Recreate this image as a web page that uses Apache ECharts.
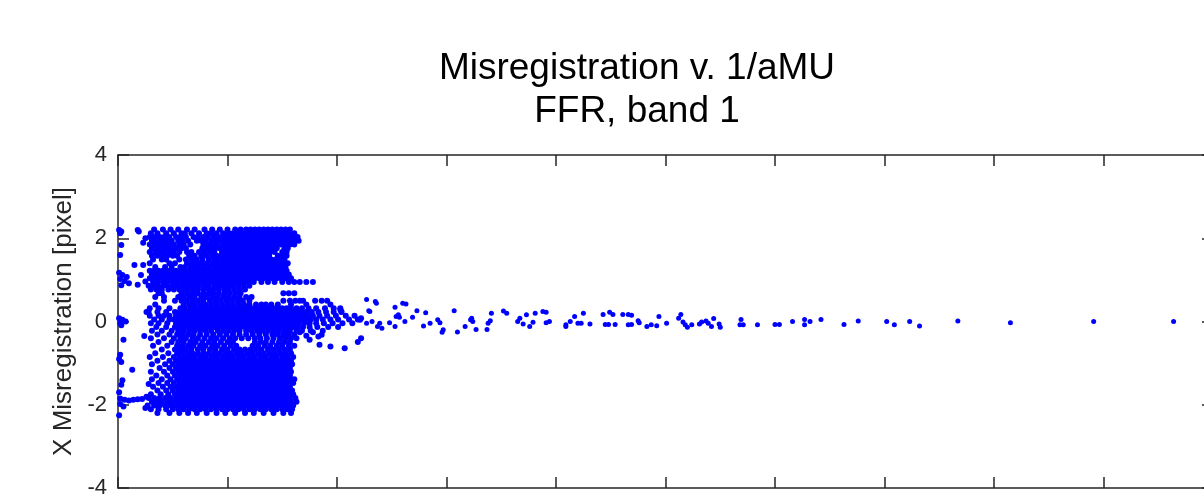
<!DOCTYPE html>
<html>
<head>
<meta charset="utf-8">
<script src="https://cdn.jsdelivr.net/npm/echarts@6/dist/echarts.min.js"></script>
<style>
html, body { margin: 0; padding: 0; background: #fff; }
#main { width: 1204px; height: 496px; }
</style>
</head>
<body>
<div id="main"></div>
<script>
// x values are in arbitrary axis units (0..1000, ticks every 100), y in pixels of misregistration
// dense cluster, read row by row: [y, [x, x, ...]]
var upperRows = [
	[2.21, [33, 41, 48, 55, 63, 70, 79, 86, 93, 100, 107, 112, 117, 121, 125, 129, 133, 137, 141, 145, 149, 153, 157]],
	[2.12, [30, 36, 44, 51, 58, 61, 67, 74, 81, 85, 90, 96, 101, 105, 109, 113, 117, 121, 125, 129, 133, 137, 141, 145, 149, 153, 157, 161]],
	[2.03, [29, 33, 38, 42, 47, 53, 57, 62, 69, 73, 78, 82, 87, 92, 96, 100, 104, 108, 112, 116, 120, 124, 128, 132, 136, 140, 144, 148, 152, 156, 160, 164]],
	[1.94, [31, 35, 40, 44, 49, 55, 59, 64, 72, 76, 80, 85, 89, 94, 98, 102, 106, 110, 114, 118, 122, 126, 130, 134, 138, 142, 146, 150, 154, 158, 162, 165]],
	[1.85, [29, 33, 37, 42, 46, 51, 56, 60, 66, 78, 83, 87, 91, 96, 100, 104, 108, 112, 116, 120, 124, 128, 132, 136, 140, 144, 148, 152, 157, 161]],
	[1.76, [31, 35, 40, 44, 48, 53, 58, 62, 77, 81, 85, 89, 93, 97, 101, 105, 109, 113, 117, 121, 125, 129, 133, 137, 141, 145, 152, 155]],
	[1.67, [29, 34, 38, 42, 47, 51, 56, 63, 67, 74, 79, 84, 88, 95, 99, 103, 107, 111, 115, 119, 123, 127, 131, 135, 139, 143, 150, 154]],
	[1.58, [31, 36, 41, 45, 50, 54, 65, 70, 76, 81, 86, 90, 94, 98, 102, 106, 110, 114, 118, 122, 126, 130, 134, 138, 146, 150, 154]],
	[1.49, [32, 40, 44, 56, 62, 67, 72, 77, 83, 88, 92, 96, 100, 104, 108, 112, 116, 120, 124, 128, 132, 136, 140, 144, 148, 152]],
	[1.40, [29, 47, 52, 63, 68, 72, 76, 81, 86, 90, 95, 99, 103, 107, 111, 115, 119, 123, 127, 131, 135, 139, 143, 147, 151, 155]],
	[1.31, [34, 43, 49, 57, 61, 66, 70, 74, 79, 84, 89, 93, 97, 101, 105, 109, 113, 117, 121, 125, 129, 133, 137, 141, 145, 149, 153]],
	[1.22, [29, 33, 37, 41, 45, 49, 53, 57, 61, 65, 69, 73, 77, 81, 85, 89, 93, 97, 101, 105, 109, 113, 117, 121, 125, 129, 133, 137, 141, 145, 149, 154]],
	[1.13, [31, 35, 39, 43, 47, 51, 55, 59, 63, 67, 71, 75, 79, 83, 87, 91, 95, 99, 103, 107, 111, 115, 119, 123, 127, 131, 135, 139, 143, 147, 151, 156]],
	[1.04, [29, 33, 37, 41, 45, 49, 53, 57, 61, 65, 69, 73, 77, 81, 85, 89, 93, 97, 101, 105, 109, 113, 117, 121, 125, 129, 133, 137, 141, 145, 149, 153, 158]],
	[0.95, [32, 36, 41, 45, 50, 54, 59, 63, 67, 71, 75, 79, 83, 87, 91, 95, 99, 103, 107, 111, 115, 119, 124, 131, 137, 143, 150, 156, 161, 166, 172, 178]],
	[0.86, [28, 32, 36, 41, 45, 50, 54, 58, 62, 66, 70, 74, 79, 83, 88, 92, 96, 101, 105, 110, 115, 120]],
	[0.77, [30, 35, 40, 46, 51, 56, 60, 64, 69, 73, 78, 83, 87, 92, 97, 101, 106, 111, 116]]
];
var middleRows = [
	[0.68, [37, 40, 58, 63, 68, 73, 78, 83, 87, 92, 97, 102, 107, 112, 151, 156, 161]],
	[0.59, [34, 42, 55, 60, 65, 70, 76, 81, 86, 91, 96, 101, 106, 111, 117, 122]],
	[0.50, [42, 52, 58, 63, 68, 73, 78, 84, 89, 94, 99, 104, 109, 114, 120, 151, 157, 162, 166, 169, 180, 186, 191]],
	[0.41, [34, 60, 65, 70, 75, 80, 85, 90, 95, 100, 105, 110, 115, 120, 126, 131, 135, 140, 146, 158, 172, 194]],
	[0.32, [29, 37, 47, 57, 61, 66, 70, 74, 78, 82, 86, 90, 94, 98, 102, 106, 110, 114, 118, 122, 126, 130, 134, 138, 142, 146, 150, 154, 158, 163, 168, 174, 181, 189, 197, 203]],
	[0.23, [28, 36, 44, 52, 56, 60, 64, 68, 72, 76, 80, 84, 88, 92, 96, 100, 104, 108, 112, 116, 120, 124, 128, 132, 136, 140, 144, 148, 152, 156, 160, 164, 168, 172, 177, 183, 190, 197, 204]],
	[0.14, [29, 37, 42, 47, 53, 57, 61, 65, 69, 73, 77, 81, 85, 89, 93, 97, 101, 105, 109, 113, 117, 121, 125, 129, 133, 137, 141, 145, 149, 153, 157, 161, 165, 169, 173, 178, 184, 191, 199, 208, 216]],
	[0.05, [33, 40, 47, 51, 55, 59, 63, 67, 71, 75, 79, 83, 87, 91, 95, 99, 103, 107, 111, 115, 119, 123, 127, 131, 135, 139, 143, 147, 151, 155, 159, 163, 167, 171, 176, 181, 187, 194, 201, 211, 219]],
	[-0.04, [30, 37, 45, 53, 57, 61, 65, 69, 73, 77, 81, 85, 89, 93, 97, 101, 105, 109, 113, 117, 121, 125, 129, 133, 137, 141, 145, 149, 153, 157, 161, 165, 170, 175, 181, 188, 196, 205, 214]],
	[-0.13, [35, 44, 52, 56, 60, 64, 68, 72, 76, 80, 84, 88, 92, 96, 100, 104, 108, 112, 116, 120, 124, 128, 132, 136, 140, 144, 148, 152, 156, 160, 164, 169, 175, 182, 192, 201]],
	[-0.22, [31, 40, 49, 55, 60, 65, 70, 75, 80, 85, 91, 96, 101, 106, 111, 117, 122, 127, 132, 137, 142, 147, 152, 157, 163, 168, 176]],
	[-0.31, [36, 47, 54, 59, 64, 69, 75, 81, 87, 93, 99, 105, 111, 117, 123, 129, 135, 141, 146, 151, 156, 161]],
	[-0.40, [30, 42, 51, 57, 62, 68, 73, 79, 85, 90, 96, 102, 107, 113, 119, 125, 130, 136, 142, 148, 153, 158, 163]]
];
var lowerRows = [
	[-0.49, [37, 49, 55, 60, 66, 71, 77, 83, 88, 94, 100, 105, 125, 130, 135, 141, 147, 152, 157]],
	[-0.58, [32, 45, 54, 59, 64, 69, 75, 80, 86, 91, 97, 103, 108, 123, 128, 134, 139, 145, 150, 156, 161]],
	[-0.67, [40, 52, 57, 62, 67, 73, 78, 84, 89, 95, 100, 106, 111, 116, 121, 126, 131, 137, 142, 147, 152, 157]],
	[-0.76, [34, 46, 54, 59, 64, 68, 73, 78, 83, 88, 93, 98, 103, 108, 113, 118, 123, 128, 133, 138, 143, 148, 153, 158]],
	[-0.85, [29, 41, 51, 56, 61, 65, 70, 75, 80, 85, 90, 95, 100, 105, 110, 115, 120, 125, 130, 135, 140, 145, 150, 155, 160]],
	[-0.94, [36, 47, 53, 58, 62, 66, 70, 74, 78, 82, 86, 90, 94, 98, 102, 106, 110, 114, 118, 122, 126, 130, 134, 138, 142, 146, 150, 154, 158]],
	[-1.03, [31, 43, 50, 55, 59, 63, 67, 71, 75, 79, 83, 87, 91, 95, 99, 103, 107, 111, 115, 119, 123, 127, 131, 135, 139, 143, 147, 151, 155, 159]],
	[-1.12, [38, 47, 53, 57, 61, 65, 69, 73, 77, 81, 85, 89, 93, 97, 101, 105, 109, 113, 117, 121, 125, 129, 133, 137, 141, 145, 149, 153, 157]],
	[-1.21, [30, 42, 50, 55, 59, 63, 67, 71, 75, 79, 83, 87, 91, 95, 99, 103, 107, 111, 115, 119, 123, 127, 131, 135, 139, 143, 147, 151, 155, 158]],
	[-1.30, [35, 45, 52, 57, 61, 65, 69, 73, 77, 81, 85, 89, 93, 97, 101, 105, 109, 113, 117, 121, 125, 129, 133, 137, 141, 145, 149, 153, 157]],
	[-1.39, [31, 40, 48, 54, 58, 62, 66, 70, 74, 78, 82, 86, 90, 94, 98, 102, 106, 110, 114, 118, 122, 126, 130, 134, 138, 142, 146, 150, 154, 158, 161]],
	[-1.48, [37, 45, 51, 56, 60, 64, 68, 72, 76, 80, 84, 88, 92, 96, 100, 104, 108, 112, 116, 120, 124, 128, 132, 136, 140, 144, 148, 152, 156, 160]],
	[-1.57, [32, 41, 48, 53, 57, 61, 65, 69, 73, 77, 81, 85, 89, 93, 97, 101, 105, 109, 113, 117, 121, 125, 129, 133, 137, 141, 145, 149, 153, 157]],
	[-1.66, [36, 44, 50, 55, 59, 63, 67, 71, 75, 79, 83, 87, 91, 95, 99, 103, 107, 111, 115, 119, 123, 127, 131, 135, 139, 143, 147, 151, 155, 159]],
	[-1.75, [30, 39, 46, 52, 56, 60, 64, 68, 72, 76, 80, 84, 88, 92, 96, 100, 104, 108, 112, 116, 120, 124, 128, 132, 136, 140, 144, 148, 152, 156, 160]],
	[-1.84, [28, 33, 38, 43, 48, 53, 57, 61, 65, 69, 73, 77, 81, 85, 89, 93, 97, 101, 105, 109, 113, 117, 121, 125, 129, 133, 137, 141, 145, 149, 153, 157, 162]],
	[-1.93, [31, 35, 40, 45, 50, 54, 58, 62, 66, 70, 74, 78, 82, 86, 90, 94, 98, 102, 106, 110, 114, 118, 122, 126, 130, 134, 138, 142, 146, 150, 154, 158, 163]],
	[-2.02, [27, 33, 38, 43, 48, 52, 56, 60, 64, 68, 72, 76, 80, 84, 88, 92, 96, 100, 104, 108, 112, 116, 120, 124, 128, 132, 136, 140, 144, 148, 152, 156, 160]],
	[-2.11, [30, 37, 44, 50, 55, 60, 65, 70, 75, 80, 85, 90, 95, 100, 105, 110, 115, 120, 125, 130, 135, 140, 145, 150, 155, 159]],
	[-2.20, [36, 47, 56, 64, 72, 81, 90, 98, 107, 116, 124, 133, 142, 151, 158]]
];
// loose points next to the y axis and around the cluster edges: [x, y]
var edgePoints = [
	[1, 2.2], [3, 2.16], [2, 2.12], [18, 2.2], [19, 2.16], [25, 2.0], [23, 1.89], [3, 1.84], [2, 1.6],
	[15, 1.36], [23, 1.36], [1, 1.17], [4, 1.12], [8, 1.07], [2, 1.02], [6, 0.97], [10, 0.92], [3, 0.87],
	[21, 1.12], [18, 0.88], [25, 0.96], [1, 0.08], [4, 0.04], [7, 0.0], [2, -0.04], [3, -0.09], [5, -0.44],
	[24, -0.35], [26, 0.23], [2, -0.8], [1, -0.9], [3, -0.97], [13, -1.16], [4, -1.41], [3, -1.52], [28, -1.5],
	[1, -1.7], [2, -1.85], [6, -1.88], [10, -1.9], [14, -1.88], [18, -1.87], [22, -1.86], [26, -1.81],
	[2, -1.98], [5, -2.04], [25, -2.08], [1, -2.25],
	[154, -0.22], [166, -0.26], [172, -0.34], [178, -0.26], [187, -0.22], [175, -0.44], [183, -0.36],
	[186, -0.32], [184, -0.56], [194, -0.6], [207, -0.64], [219, -0.49], [222, -0.4], [203, 0.29],
	[204, 0.24], [221, 0.04], [222, 0.08], [227, -0.04], [232, 0.0], [239, -0.04], [237, -0.12],
	[241, -0.16], [229, 0.26]
];
// thin tail toward large x
var tailPoints = [
	[227, 0.53], [235, 0.48], [236, 0.44], [230, 0.24], [248, -0.03], [253, 0.34], [254, 0.12], [256, 0.16],
	[257, 0.10], [253, -0.12], [260, 0.44], [263, 0.42], [262, 0.0], [269, 0.10], [273, 0.26], [281, 0.21],
	[279, -0.11], [285, -0.04], [292, 0.04], [294, -0.03], [297, -0.2], [296, -0.26], [307, 0.26], [310, -0.25],
	[317, -0.12], [322, 0.04], [324, 0.0], [323, 0.08], [327, -0.19], [337, -0.19], [338, -0.04], [340, 0.02],
	[341, 0.20], [352, 0.25], [355, 0.20], [365, 0.0], [367, 0.08], [370, -0.06], [373, 0.16], [376, -0.12],
	[379, -0.02], [381, 0.20], [388, 0.24], [391, 0.22], [394, 0.0], [391, -0.03], [409, -0.08], [409, -0.12],
	[413, 0.0], [417, 0.12], [420, -0.04], [423, -0.04], [425, 0.20], [431, -0.06], [443, 0.17], [445, -0.07],
	[448, -0.07], [449, 0.22], [452, 0.17], [454, -0.07], [461, 0.17], [466, 0.17], [469, 0.15], [466, -0.08],
	[469, -0.07], [475, 0.02], [476, -0.03], [483, -0.12], [487, -0.08], [492, -0.10], [494, 0.12], [501, -0.04],
	[512, 0.08], [514, 0.17], [516, -0.01], [518, -0.08], [520, -0.14], [524, -0.08], [531, -0.06], [533, -0.01],
	[537, 0.01], [539, -0.04], [542, -0.12], [544, 0.07], [549, -0.06], [550, -0.14], [569, 0.05], [568, -0.08],
	[571, -0.08], [584, -0.08], [600, -0.07], [604, -0.07], [616, 0.0], [627, 0.05], [627, -0.08], [632, 0.0],
	[642, 0.05], [663, -0.07], [676, 0.01], [702, 0.0], [709, -0.08], [723, 0.0], [732, -0.11], [767, 0.01],
	[815, -0.03], [891, 0.0], [964, 0.0]
];
var yTicks = [-4, -2, 0, 2, 4];

var points = [];
function addRows(rows) {
	rows.forEach(function (r) {
		r[1].forEach(function (x) { points.push([x, r[0]]); });
	});
}
addRows(upperRows);
addRows(middleRows);
addRows(lowerRows);
points = points.concat(edgePoints, tailPoints);

var axisColor = '#262626';
var font = 'Liberation Sans, Arial, Helvetica, sans-serif';

function xAx(pos) {
	return {
		type: 'value', position: pos, min: 0, max: 1000, interval: 100,
		axisLine: { show: true, onZero: false, lineStyle: { color: axisColor, width: 1.5 } },
		axisTick: { show: true, inside: true, length: 11, lineStyle: { color: axisColor, width: 1.5 } },
		axisLabel: { show: false },
		splitLine: { show: false }
	};
}
function yAx(pos, labels) {
	return {
		type: 'value', position: pos, min: yTicks[0], max: yTicks[yTicks.length - 1], interval: 2,
		axisLine: { show: true, onZero: false, lineStyle: { color: axisColor, width: 1.5 } },
		axisTick: { show: true, inside: true, length: 11, lineStyle: { color: axisColor, width: 1.5 } },
		axisLabel: { show: labels, fontSize: 22, color: axisColor, fontFamily: font, margin: 11 },
		splitLine: { show: false }
	};
}

var myChart = echarts.init(document.getElementById('main'));
var left = yAx('left', true);
left.name = 'X Misregistration [pixel]';
left.nameLocation = 'middle';
left.nameRotate = 90;
left.nameGap = 40;
left.nameTextStyle = { fontSize: 26, color: axisColor, fontFamily: font };

option = {
	animation: false,
	backgroundColor: '#fff',
	title: {
		text: 'Misregistration v. 1/aMU\nFFR, band 1',
		left: 632,
		top: 42,
		textAlign: 'center',
		textStyle: { fontFamily: font, fontSize: 37, fontWeight: 'normal', color: '#000', lineHeight: 43 }
	},
	grid: { left: 118, right: -9, top: 155, bottom: 8, outerBoundsMode: 'none' },
	xAxis: [xAx('bottom'), xAx('top')],
	yAxis: [left, yAx('right', false)],
	series: [{
		type: 'scatter',
		xAxisIndex: 0,
		yAxisIndex: 0,
		symbol: 'circle',
		// dense cluster drawn a little larger so it reads as solid, like the original
		symbolSize: function (v) { return v[0] < 225 ? 6 : 5; },
		clip: false,
		itemStyle: { color: '#0000ff', opacity: 1 },
		data: points
	}]
};
myChart.setOption(option);
</script>
</body>
</html>
